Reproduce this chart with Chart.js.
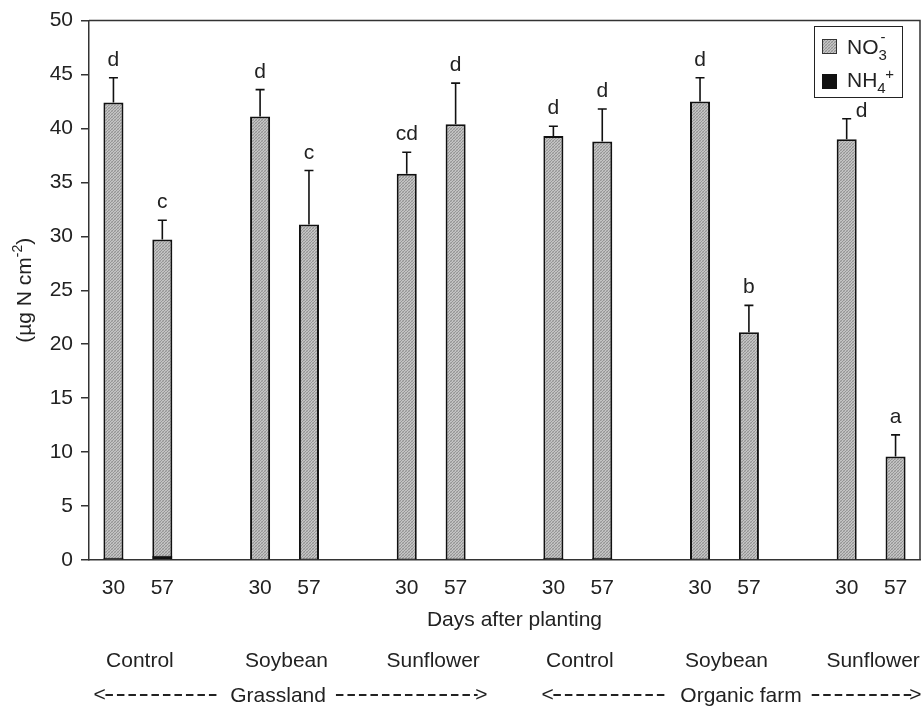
<!DOCTYPE html>
<html>
<head>
<meta charset="utf-8">
<script src="https://cdn.jsdelivr.net/npm/chart.js@4.4.0/dist/chart.umd.min.js"></script>
<style>
  html, body { margin: 0; padding: 0; background: #fff; }
  #wrap { width: 924px; height: 707px; }
</style>
</head>
<body>
<div id="wrap"><canvas id="myChart" width="924" height="707"></canvas></div>
<script>
// 17 slots: 30, 57, gap ... per treatment
const days = ['30', '57', '', '30', '57', '', '30', '57', '', '30', '57', '', '30', '57', '', '30', '57'];
const crops = ['Control', 'Soybean', 'Sunflower', 'Control', 'Soybean', 'Sunflower'];
const sites = ['Grassland', 'Organic farm'];
const nitrate = [42.4, 29.7, null, 41.1, 31.1, null, 35.8, 40.4, null, 39.3, 38.8, null, 42.5, 21.1, null, 39.0, 9.6];
const nitrateSd = [2.3, 1.8, null, 2.5, 5.0, null, 2.0, 3.8, null, 0.9, 3.0, null, 2.2, 2.5, null, 1.9, 2.0];
const ammonium = [0.2, 0.4, null, 0.1, 0.15, null, 0.15, 0.15, null, 0.2, 0.2, null, 0.15, 0.1, null, 0.1, 0.15];
const letters = ['d', 'c', '', 'd', 'c', '', 'cd', 'd', '', 'd', 'd', '', 'd', 'b', '', 'd', 'a'];

const FONT = '"Liberation Sans", Arial, Helvetica, sans-serif';
const TXT = '#222';
const FS = 21;

function makePattern() {
  const c = document.createElement('canvas');
  c.width = 3; c.height = 3;
  const g = c.getContext('2d');
  g.fillStyle = '#c4c4c4'; g.fillRect(0, 0, 3, 3);
  g.fillStyle = '#959595';
  g.fillRect(0, 0, 1, 1); g.fillRect(1, 2, 1, 1); g.fillRect(2, 1, 1, 1);
  g.fillStyle = '#b0b0b0';
  g.fillRect(1, 0, 1, 1); g.fillRect(0, 2, 1, 1);
  return g.createPattern(c, 'repeat');
}
const grey = makePattern();

const extras = {
  id: 'extras',
  afterDatasetsDraw(chart) {
    const ctx = chart.ctx;
    const x = chart.scales.x, y = chart.scales.y;
    const a = chart.chartArea;
    ctx.save();
    // frame top and right
    ctx.strokeStyle = '#333'; ctx.lineWidth = 1.5;
    ctx.beginPath();
    ctx.moveTo(a.left, a.top); ctx.lineTo(a.right, a.top); ctx.lineTo(a.right, a.bottom);
    ctx.stroke();
    // error bars and letters
    ctx.strokeStyle = '#111'; ctx.lineWidth = 1.6;
    ctx.font = FS + 'px ' + FONT; ctx.fillStyle = TXT; ctx.textAlign = 'center'; ctx.textBaseline = 'alphabetic';
    nitrate.forEach((v, i) => {
      if (v === null) return;
      const px = x.getPixelForValue(i);
      const y0 = y.getPixelForValue(v);
      const y1 = y.getPixelForValue(v + nitrateSd[i]);
      ctx.beginPath();
      ctx.moveTo(px, y0); ctx.lineTo(px, y1);
      ctx.moveTo(px - 4.5, y1); ctx.lineTo(px + 4.5, y1);
      ctx.stroke();
      // the letter under the legend is pushed aside, as in the original
      const dx = (i === 15) ? 15 : 0;
      const dy = (i === 15) ? 10 : 0;
      ctx.fillText(letters[i], px + dx, y1 - 12 + dy);
    });
    ctx.restore();
  },
  afterDraw(chart) {
    const ctx = chart.ctx;
    const x = chart.scales.x;
    const a = chart.chartArea;
    const px = i => x.getPixelForValue(i);
    ctx.save();
    ctx.fillStyle = TXT;
    ctx.textBaseline = 'middle';
    ctx.textAlign = 'center';
    ctx.font = FS + 'px ' + FONT;
    // axis title
    ctx.fillText('Days after planting', (a.left + a.right) / 2 + 10, 620);
    // crop names
    crops.forEach((c, k) => {
      const i = k * 3;
      ctx.fillText(c, (px(i) + px(i + 1)) / 2 + 2, 661);
    });
    // site spans
    const spans = [
      { l: px(0) - 20, r: px(7) + 32, c: px(3) + 18, text: sites[0] },
      { l: px(9) - 12, r: px(16) + 26, c: px(12) + 41, text: sites[1] }
    ];
    ctx.strokeStyle = '#222'; ctx.lineWidth = 2;
    ctx.setLineDash([7.5, 4]);
    spans.forEach(s => {
      const w = ctx.measureText(s.text).width;
      ctx.textAlign = 'center';
      ctx.fillText(s.text, s.c, 696);
      ctx.textAlign = 'left';
      ctx.fillText('<', s.l, 695);
      ctx.textAlign = 'right';
      ctx.fillText('>', s.r, 695);
      ctx.beginPath();
      ctx.moveTo(s.l + 12, 695); ctx.lineTo(s.c - w / 2 - 12, 695);
      ctx.moveTo(s.c + w / 2 + 10, 695); ctx.lineTo(s.r - 10, 695);
      ctx.stroke();
    });
    ctx.setLineDash([]);
    // y title
    ctx.save();
    ctx.translate(25, (a.top + a.bottom) / 2);
    ctx.rotate(-Math.PI / 2);
    ctx.textAlign = 'left';
    ctx.font = FS + 'px ' + FONT;
    const t1 = '(\u00b5g N cm', t2 = '-2', t3 = ')';
    const w1 = ctx.measureText(t1).width, w3 = ctx.measureText(t3).width;
    ctx.font = '14px ' + FONT;
    const w2 = ctx.measureText(t2).width;
    let sx = -(w1 + w2 + w3) / 2;
    ctx.font = FS + 'px ' + FONT;
    ctx.fillText(t1, sx, 0);
    ctx.font = '14px ' + FONT;
    ctx.fillText(t2, sx + w1, -7);
    ctx.font = FS + 'px ' + FONT;
    ctx.fillText(t3, sx + w1 + w2, 0);
    ctx.restore();
    // legend
    ctx.fillStyle = '#fff';
    ctx.fillRect(814, 26, 88, 71);
    ctx.strokeStyle = '#222'; ctx.lineWidth = 1;
    ctx.strokeRect(814.5, 26.5, 88, 71);
    ctx.fillStyle = grey; ctx.fillRect(822, 39, 15, 15);
    ctx.strokeStyle = '#333'; ctx.strokeRect(822.5, 39.5, 14, 14);
    ctx.fillStyle = '#111'; ctx.fillRect(822, 74, 15, 15);
    ctx.fillStyle = TXT; ctx.textAlign = 'left'; ctx.textBaseline = 'alphabetic';
    ctx.font = FS + 'px ' + FONT;
    ctx.fillText('NO', 847, 54);
    const wNO = ctx.measureText('NO').width;
    ctx.fillText('NH', 847, 87);
    const wNH = ctx.measureText('NH').width;
    ctx.font = '15px ' + FONT;
    ctx.fillText('3', 847 + wNO, 60);
    ctx.fillText('-', 847 + wNO + 2, 42);
    ctx.fillText('4', 847 + wNH, 93);
    ctx.fillText('+', 847 + wNH + 8, 79);
    ctx.restore();
  }
};

const ctx = document.getElementById('myChart').getContext('2d');
const myChart = new Chart(ctx, {
  type: 'bar',
  data: {
    labels: days,
    datasets: [{
      label: 'NO3-',
      data: nitrate,
      backgroundColor: grey,
      borderColor: '#111',
      borderWidth: 2,
      grouped: false,
      order: 2,
      barPercentage: 0.41,
      categoryPercentage: 1
    }, {
      label: 'NH4+',
      data: ammonium,
      backgroundColor: '#111',
      borderColor: '#111',
      borderWidth: 1,
      grouped: false,
      order: 1,
      barPercentage: 0.41,
      categoryPercentage: 1
    }]
  },
  options: {
    responsive: false,
    animation: false,
    layout: { padding: { top: 18, right: 4, left: 0, bottom: 0 } },
    plugins: { legend: { display: false }, tooltip: { enabled: false } },
    scales: {
      x: {
        grid: { display: false },
        border: { display: true, color: '#333', width: 1.5 },
        ticks: { autoSkip: false, maxRotation: 0, color: TXT, font: { family: FONT, size: FS }, padding: 8 },
        afterFit(s) { s.height = 147; }
      },
      y: {
        min: 0,
        max: 50,
        grid: { drawOnChartArea: false, drawTicks: true, tickLength: 8, color: '#333', lineWidth: 1.5 },
        border: { display: true, color: '#333', width: 1.5 },
        ticks: { stepSize: 5, color: TXT, font: { family: FONT, size: FS }, padding: 8 },
        afterFit(s) { s.width = 89; }
      }
    }
  },
  plugins: [extras]
});
</script>
</body>
</html>
